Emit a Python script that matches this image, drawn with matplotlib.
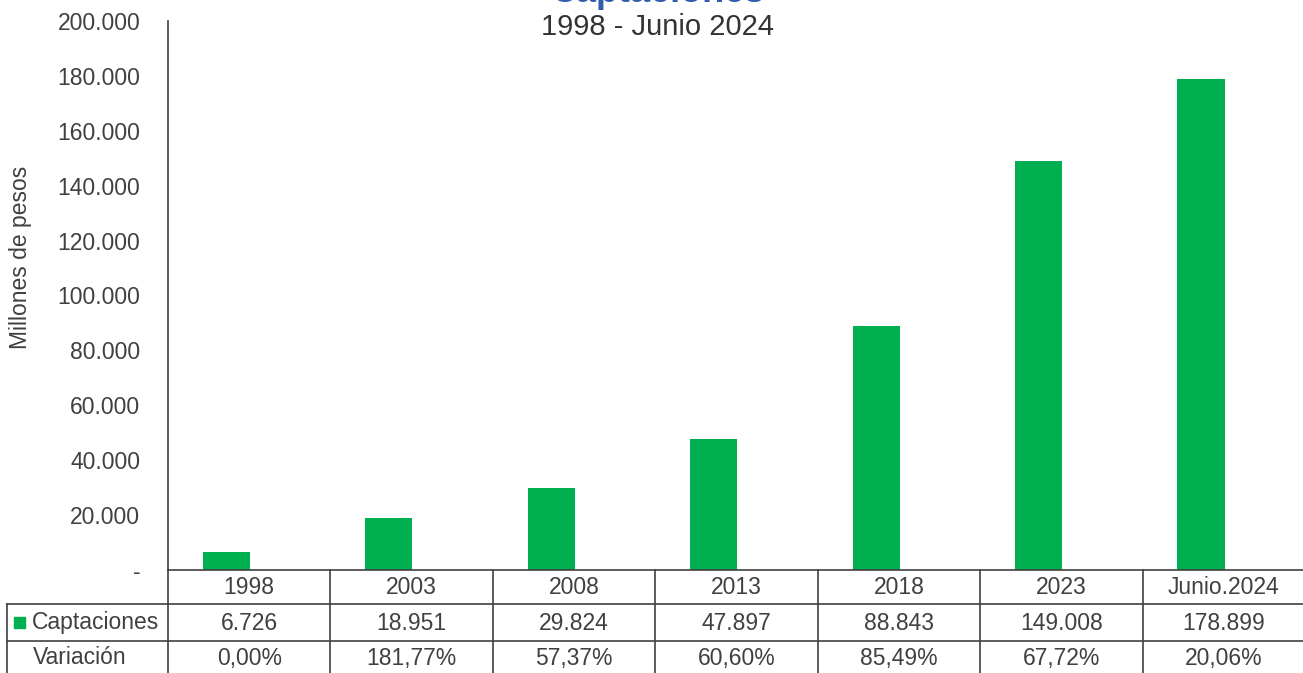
import matplotlib
matplotlib.use("Agg")
import matplotlib.pyplot as plt
from matplotlib.ticker import FuncFormatter

# datos
periodos = ["1998", "2003", "2008", "2013", "2018", "2023", "Junio.2024"]
captaciones = [6726, 18951, 29824, 47897, 88843, 149008, 178899]
variacion = ["0,00%", "181,77%", "57,37%", "60,60%", "85,49%", "67,72%", "20,06%"]

W, H = 1303, 673
verde = "#00b050"
gris = "#404040"
fs = 16.5
plt.rcParams["font.family"] = ["Liberation Sans", "DejaVu Sans"]

fig = plt.figure(figsize=(W / 100, H / 100), dpi=100)

# area del grafico (en pixeles de la figura)
x0, x1 = 168, 1305
y_top, y_base = 21, 570
ax = fig.add_axes([x0 / W, 1 - y_base / H, (x1 - x0) / W, (y_base - y_top) / H])

n = len(periodos)
pos = list(range(n))
ancho = 0.29
ax.bar([p - 0.14 for p in pos], captaciones, width=ancho, color=verde, zorder=2)
ax.set_xlim(-0.5, n - 0.5)
ax.set_ylim(0, 200000)
ax.set_yticks(range(0, 200001, 20000))
ax.yaxis.set_major_formatter(FuncFormatter(
    lambda v, _: "-" if v == 0 else f"{int(v):,}".replace(",", ".")))
ax.tick_params(axis="y", length=0, pad=20, labelsize=fs, labelcolor=gris)
ax.set_xticks([])
for s in ["top", "right", "bottom"]:
    ax.spines[s].set_visible(False)
ax.spines["left"].set_color(gris)
ax.spines["left"].set_linewidth(1.2)
ax.set_ylabel("Millones de pesos", fontsize=fs, color=gris)
ax.yaxis.set_label_coords(-136 / (x1 - x0), 0.57)

# titulos (el principal queda cortado arriba, como en el original)
fig.text(658 / W, 1 + 7.5 / H, "Captaciones", ha="center", va="center",
         fontsize=26, fontweight="bold", color="#2f5cad")
fig.text(658 / W, 1 - 27 / H, "1998 - Junio 2024", ha="center", va="center",
         fontsize=21, color="#333333")

# tabla de datos bajo el grafico
tb = fig.add_axes([0, 0, 1, 1])
tb.set_xlim(0, W)
tb.set_ylim(H, 0)
tb.axis("off")

col_w = (x1 - x0) / n
filas = [570, 604, 641]
lc = dict(color=gris, lw=1.2)
tb.plot([x0, W], [filas[0]] * 2, **lc)
tb.plot([7, W], [filas[1]] * 2, **lc)
tb.plot([7, W], [filas[2]] * 2, **lc)
tb.plot([7, 7], [filas[1], H], **lc)
for i in range(n + 1):
    xb = x0 + i * col_w
    tb.plot([xb, xb], [filas[0], H], **lc)

for i in range(n):
    xc = x0 + (i + 0.5) * col_w
    tb.text(xc, 587, periodos[i], ha="center", va="center", fontsize=fs, color=gris)
    tb.text(xc, 623, f"{captaciones[i]:,}".replace(",", "."), ha="center", va="center",
            fontsize=fs, color=gris)
    tb.text(xc, 658, variacion[i], ha="center", va="center", fontsize=fs, color=gris)

tb.add_patch(plt.Rectangle((14, 617), 11, 11, color=verde))
tb.text(32, 623, "Captaciones", ha="left", va="center", fontsize=fs, color=gris)
tb.text(33, 658, "Variación", ha="left", va="center", fontsize=fs, color=gris)

fig.savefig("out.png", dpi=100)
